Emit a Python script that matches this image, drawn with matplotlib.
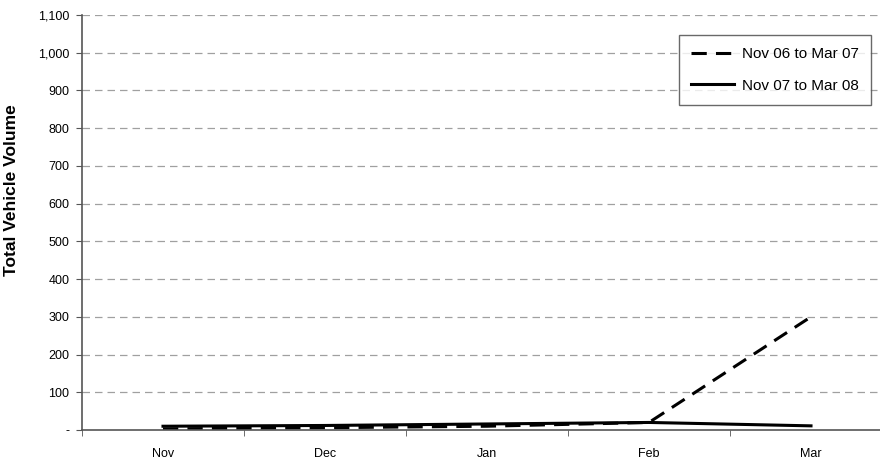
import matplotlib
matplotlib.use("Agg")
import matplotlib.pyplot as plt
import numpy as np

months = ["Nov", "Dec", "Jan", "Feb", "Mar"]
season_0607 = [3, 6, 10, 20, 300]
season_0708 = [10, 12, 16, 20, 11]
y_ticks = [0, 100, 200, 300, 400, 500, 600, 700, 800, 900, 1000, 1100]

plt.rcParams['font.family'] = ['Liberation Sans', 'DejaVu Sans']

W, H = 880, 463
fig = plt.figure(figsize=(W/100, H/100), dpi=100)
ax = fig.add_axes([82/W, 1-430/H, 810/W, 415/H])

x = np.arange(len(months))
ax.plot(x, season_0607, color='black', lw=2.2, ls=(0, (5, 3)), label='Nov 06 to Mar 07')
ax.plot(x, season_0708, color='black', lw=2.2, ls='-', label='Nov 07 to Mar 08')

ax.set_xlim(-0.5, len(months) - 0.5)
ax.set_ylim(0, 1100)
ax.set_yticks(y_ticks)
ax.set_yticklabels(['-' if v == 0 else f"{v:,}" for v in y_ticks], fontsize=9)
ax.set_xticks(x)
ax.set_xticklabels(months, fontsize=9)
ax.set_xticks(np.arange(-0.5, len(months)), minor=True)
ax.tick_params(axis='x', which='major', length=0, pad=13)
ax.tick_params(axis='x', which='minor', length=4, color='#555555', direction='out')
ax.tick_params(axis='y', length=4, color='#555555', direction='out', pad=5)

for v in y_ticks[1:]:
    ax.axhline(v, color='#a0a0a0', lw=0.9, ls=(0, (6, 4)), zorder=0)

for s in ['top', 'right']:
    ax.spines[s].set_visible(False)
for s in ['left', 'bottom']:
    ax.spines[s].set_color('#555555')
    ax.spines[s].set_linewidth(1.2)

ax.set_ylabel('Total Vehicle Volume', fontsize=12.5, fontweight='bold')
ax.yaxis.set_label_coords((19-82)/810, (430-190)/415)

leg = ax.legend(loc='upper left', bbox_to_anchor=((679-82)/810, (430-35)/415),
                fontsize=11, frameon=True, fancybox=False, edgecolor='#444444',
                handlelength=2.8, borderpad=0.8, labelspacing=1.15, handletextpad=0.5,
                borderaxespad=0)
leg.get_frame().set_linewidth(1.0)

fig.savefig('out.png', dpi=100)
